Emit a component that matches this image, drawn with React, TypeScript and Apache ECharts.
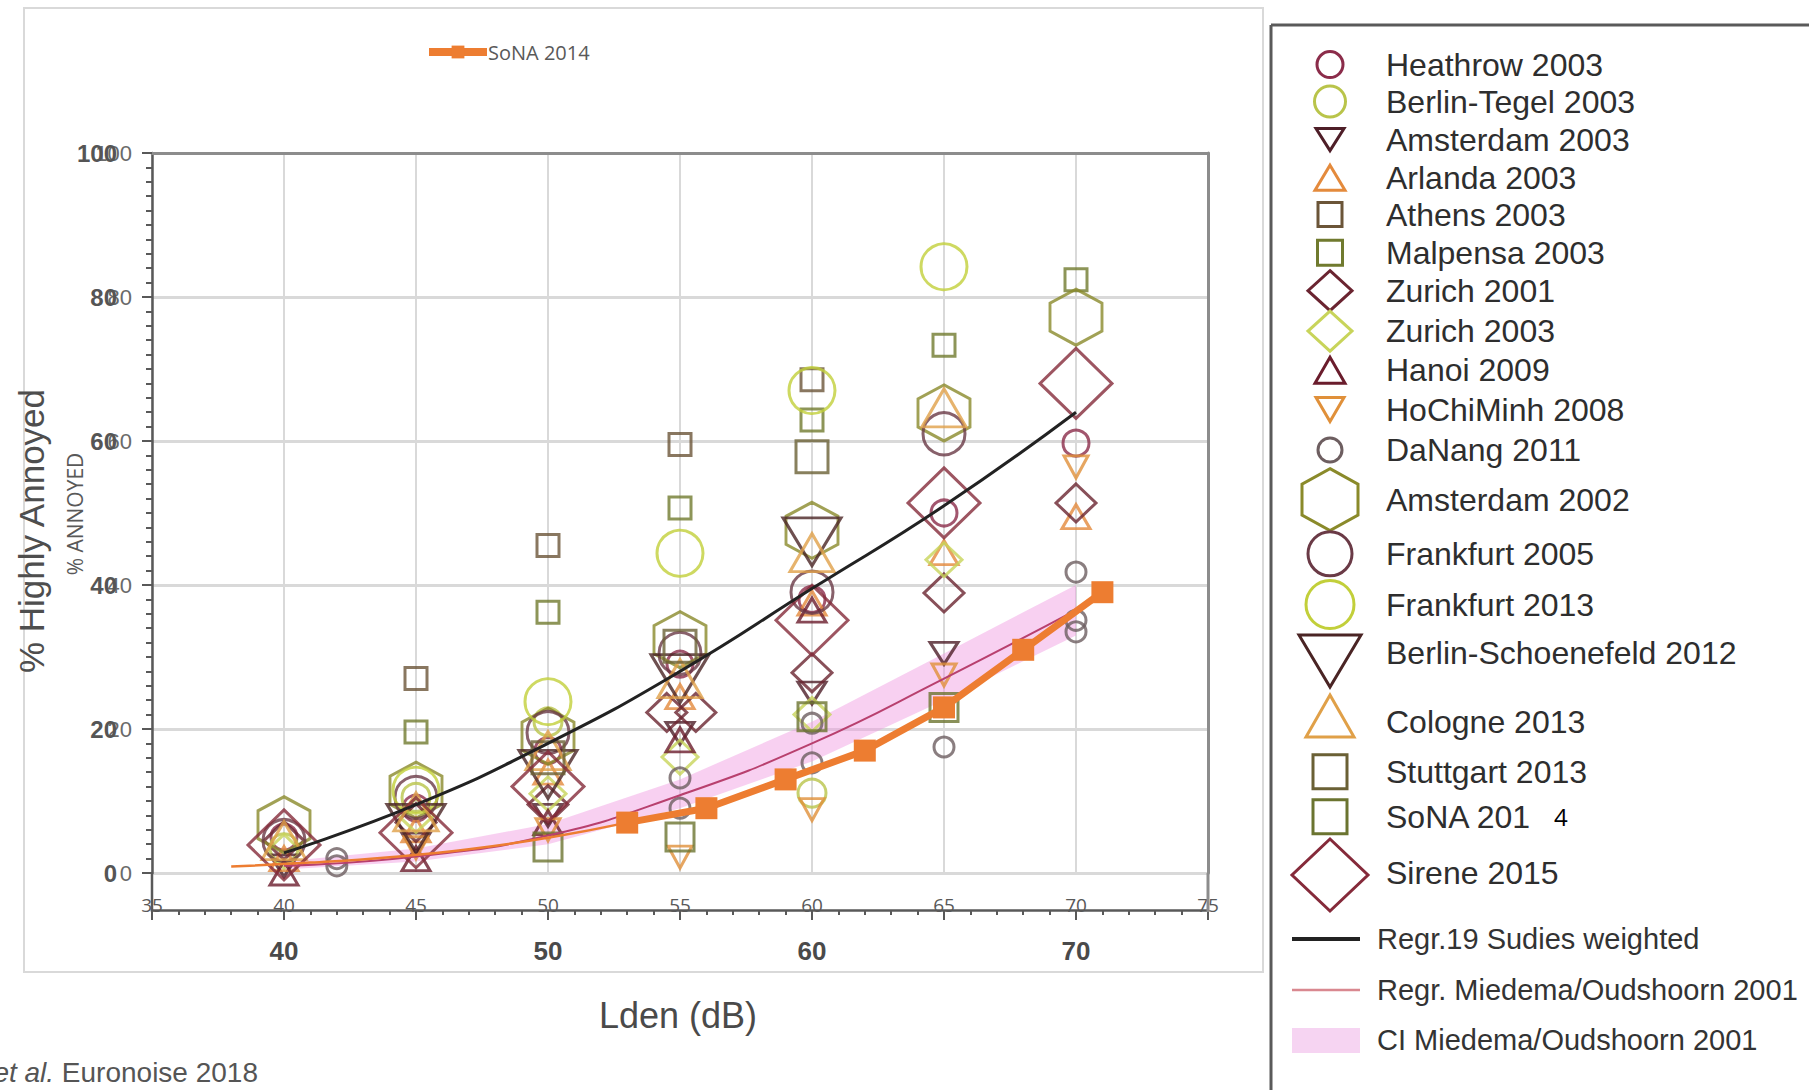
import React, { useEffect, useRef } from "react";
import * as echarts from "echarts";

// ---------- data ----------
const sonaX = [53, 56, 59, 62, 65, 68, 71];
const sonaY = [7, 9, 13, 17, 23, 31, 39];
const sonaThinX = [38, 41, 44, 47, 50, 53];
const sonaThinY = [0.9, 1.45, 2.2, 3.3, 4.9, 7];
const regr19X = [40, 45, 50, 55, 60, 65, 70];
const regr19Y = [2.8, 9.5, 18, 28, 39.5, 51, 64];
const miedemaX = [40, 45, 50, 55, 60, 65, 70];
const miedemaY = [1.0, 2.3, 5.2, 10.8, 18, 27, 36.5];
const ciLow = [0.5, 1.6, 4.0, 9.0, 15.5, 24, 33];
const ciHigh = [1.6, 3.4, 6.8, 13, 21, 30.5, 40];

const heathrow2003 = [[40, 5], [45, 9], [50, 17], [55, 29], [60, 38], [65, 50], [70, 59.7]];
const berlinTegel2003 = [[40, 3.5], [45, 10.5], [50, 21], [60, 11.1]];
const amsterdam2003 = [[40, 1], [45, 4], [50, 8], [55, 19.4], [60, 25], [65, 30.5]];
const arlanda2003 = [[40, 2], [45, 6], [50, 14], [55, 24.5], [60, 37.5], [65, 44.5], [70, 49.5]];
const athens2003 = [[45, 27], [50, 45.5], [55, 59.5], [60, 68.5]];
const malpensa2003 = [[45, 19.6], [50, 36.2], [55, 50.7], [60, 62.9], [65, 73.3], [70, 82.4]];
const zurich2001 = [[40, 4.5], [45, 7], [50, 9.5], [54.5, 22.3], [55.6, 22.3], [60, 27.8], [65, 38.9], [70, 51.4]];
const zurich2003 = [[40, 3], [45, 8], [50, 11], [55, 16.1], [60, 22], [65, 43.5]];
const hanoi2009 = [[40, 0], [45, 2], [50, 7], [55, 18.5], [60, 36.5]];
const hoChiMinh2008 = [[45, 3.5], [50, 6], [55, 2.2], [60, 8.8], [65, 27.5], [70, 56.4]];
const daNang2011 = [[42, 2], [42, 1], [55, 13.2], [55, 9], [60, 20.8], [60, 15.3], [65, 17.5], [70, 41.8], [70, 35.1], [70, 33.5]];
const amsterdam2002 = [[40, 6.7], [45, 11.5], [50, 19], [55, 32.4], [60, 47.6], [65, 63.9], [70, 77.2]];
const frankfurt2005 = [[40, 4.5], [45, 10.5], [50, 19.5], [55, 30.5], [60, 39], [65, 61]];
const frankfurt2013 = [[45, 11.5], [50, 23.8], [55, 44.4], [60, 67], [65, 84.2]];
const berlinSchoenefeld2012 = [[45, 6.2], [50, 13.7], [55, 27], [60, 46]];
const cologne2013 = [[40, 4.5], [45, 8.5], [50, 17], [55, 27], [60, 44.5], [65, 64.6]];
const stuttgart2013 = [[50, 16], [55, 31.5], [60, 57.8]];
const sona2014Study = [[50, 3.6], [55, 5], [60, 21.7], [65, 23]];
const sirene2015 = [[40, 3.9], [45, 5.6], [50, 12], [60, 35.1], [65, 51.4], [70, 68]];

// ---------- styles ----------
const SYM: Record<string, string> = {
  circle: "circle",
  triangle: "triangle",
  inv: "path://M0,0 L100,0 L50,100 Z",
  square: "rect",
  diamond: "diamond",
  hex: "path://M50,0 L100,25 L100,75 L50,100 L0,75 L0,25 Z",
};

const studies = [
  { name: "Heathrow 2003", data: heathrow2003, kind: "circle", color: "#8b2c4a", size: [26, 26], lsize: [26, 26], ly: 64.6 },
  { name: "Berlin-Tegel 2003", data: berlinTegel2003, kind: "circle", color: "#b9c44a", size: [28, 28], lsize: [31, 31], ly: 101.5 },
  { name: "Amsterdam 2003", data: amsterdam2003, kind: "inv", color: "#4e1e28", size: [28, 22], lsize: [28, 22], ly: 139.6 },
  { name: "Arlanda 2003", data: arlanda2003, kind: "triangle", color: "#e48a3c", size: [28, 24], lsize: [30, 25], ly: 177.7 },
  { name: "Athens 2003", data: athens2003, kind: "square", color: "#6b5538", size: [22, 22], lsize: [24, 24], ly: 214.6 },
  { name: "Malpensa 2003", data: malpensa2003, kind: "square", color: "#707a2e", size: [22, 22], lsize: [25, 25], ly: 252.7 },
  { name: "Zurich 2001", data: zurich2001, kind: "diamond", color: "#6a2430", size: [40, 38], lsize: [44, 40], ly: 290.7 },
  { name: "Zurich 2003", data: zurich2003, kind: "diamond", color: "#c8d45a", size: [36, 34], lsize: [44, 40], ly: 331.1 },
  { name: "Hanoi 2009", data: hanoi2009, kind: "triangle", color: "#6a1c2c", size: [28, 24], lsize: [30, 26], ly: 370.3 },
  { name: "HoChiMinh 2008", data: hoChiMinh2008, kind: "inv", color: "#e0903a", size: [24, 22], lsize: [28, 24], ly: 409.6 },
  { name: "DaNang 2011", data: daNang2011, kind: "circle", color: "#6d5e60", size: [20, 20], lsize: [24, 24], ly: 450 },
  { name: "Amsterdam 2002", data: amsterdam2002, kind: "hex", color: "#8a8a2a", size: [52, 56], lsize: [56, 62], ly: 499.6 },
  { name: "Frankfurt 2005", data: frankfurt2005, kind: "circle", color: "#6a3a46", size: [42, 42], lsize: [44, 44], ly: 553.8 },
  { name: "Frankfurt 2013", data: frankfurt2013, kind: "circle", color: "#c2cf3a", size: [46, 46], lsize: [48, 48], ly: 604.5 },
  { name: "Berlin-Schoenefeld 2012", data: berlinSchoenefeld2012, kind: "inv", color: "#4a2424", size: [58, 48], lsize: [62, 52], ly: 653, sy: 661 },
  { name: "Cologne 2013", data: cologne2013, kind: "triangle", color: "#e0a048", size: [44, 38], lsize: [48, 42], ly: 722.2, sy: 716 },
  { name: "Stuttgart 2013", data: stuttgart2013, kind: "square", color: "#6a6035", size: [32, 32], lsize: [34, 34], ly: 771.8 },
  { name: "SoNA 201", data: sona2014Study, kind: "square", color: "#6b7430", size: [28, 28], lsize: [34, 34], ly: 816.8 },
  { name: "Sirene 2015", data: sirene2015, kind: "diamond", color: "#852a3a", size: [72, 70], lsize: [76, 72], ly: 873.4, sy: 875 },
];

function legendShape(kind: string, cx: number, cy: number, w: number, h: number, color: string) {
  const style = { fill: "none", stroke: color, lineWidth: 3 };
  const hw = w / 2, hh = h / 2;
  if (kind === "circle") return { type: "ellipse", shape: { cx, cy, rx: hw, ry: hh }, style };
  if (kind === "square") return { type: "rect", shape: { x: cx - hw, y: cy - hh, width: w, height: h }, style };
  let pts: number[][] = [];
  if (kind === "triangle") pts = [[cx, cy - hh], [cx + hw, cy + hh], [cx - hw, cy + hh]];
  if (kind === "inv") pts = [[cx - hw, cy - hh], [cx + hw, cy - hh], [cx, cy + hh]];
  if (kind === "diamond") pts = [[cx, cy - hh], [cx + hw, cy], [cx, cy + hh], [cx - hw, cy]];
  if (kind === "hex") pts = [[cx, cy - hh], [cx + hw, cy - hh / 2], [cx + hw, cy + hh / 2], [cx, cy + hh], [cx - hw, cy + hh / 2], [cx - hw, cy - hh / 2]];
  return { type: "polygon", shape: { points: pts }, style };
}

function txt(text: string, x: number, y: number, fontSize: number, color: string, align = "left", extra: any = {}) {
  return {
    type: "text",
    x,
    y,
    style: {
      text,
      fill: color,
      fontSize,
      fontFamily: "Liberation Sans, Arial, sans-serif",
      align,
      textAlign: align,
      verticalAlign: "middle",
      textVerticalAlign: "middle",
      ...extra,
    },
  };
}

export default function App() {
  const ref = useRef<HTMLDivElement>(null);
  useEffect(() => {
    document.body.style.margin = "0";
    if (!ref.current) return;
    const chart = echarts.init(ref.current, null, { renderer: "svg" });

    const graphics: any[] = [];
    graphics.push({ type: "rect", shape: { x: 24, y: 8, width: 1239, height: 964 }, style: { fill: "none", stroke: "#d9d9d9", lineWidth: 2 }, z: 0 });
    graphics.push({ type: "line", shape: { x1: 152, y1: 873, x2: 152, y2: 912 }, style: { stroke: "#595959", lineWidth: 2.5 }, z: 5 });
    graphics.push({ type: "line", shape: { x1: 1208, y1: 873, x2: 1208, y2: 912 }, style: { stroke: "#8c8c8c", lineWidth: 3 }, z: 5 });
    graphics.push({ type: "line", shape: { x1: 1271, y1: 25, x2: 1271, y2: 1090 }, style: { stroke: "#5a5a5a", lineWidth: 3 } });
    graphics.push({ type: "line", shape: { x1: 1271, y1: 25, x2: 1809, y2: 25 }, style: { stroke: "#5a5a5a", lineWidth: 3 } });
    studies.forEach((s) => {
      graphics.push(legendShape(s.kind, 1330, (s as any).sy ?? s.ly, s.lsize[0], s.lsize[1], s.color));
      graphics.push(txt(s.name, 1386, s.ly, 32, "#2e2e2e"));
    });
    graphics.push(txt("4", 1554, 816.8, 24, "#000000", "left", { fontFamily: "Open Sans, sans-serif" }));
    graphics.push({ type: "line", shape: { x1: 1292, y1: 939, x2: 1360, y2: 939 }, style: { stroke: "#222", lineWidth: 4 } });
    graphics.push(txt("Regr.19 Sudies weighted", 1377, 939, 29, "#333"));
    graphics.push({ type: "line", shape: { x1: 1292, y1: 990, x2: 1360, y2: 990 }, style: { stroke: "#d98890", lineWidth: 2.5 } });
    graphics.push(txt("Regr. Miedema/Oudshoorn 2001", 1377, 990, 29, "#333"));
    graphics.push({ type: "rect", shape: { x: 1292, y: 1028, width: 68, height: 25 }, style: { fill: "#f6d4f2" } });
    graphics.push(txt("CI Miedema/Oudshoorn 2001", 1377, 1040, 29, "#333"));
    graphics.push({ ...txt("% Highly Annoyed", 31, 531, 35, "#4e4e4e", "center"), rotation: Math.PI / 2 });
    graphics.push({ ...txt("% ANNOYED", 75, 514, 21, "#595959", "center", { fontFamily: "Open Sans, sans-serif" }), rotation: Math.PI / 2 });
    graphics.push(txt("Lden (dB)", 678, 1015, 36, "#4a4a4a", "center"));
    graphics.push(txt("{i|et al.} Euronoise 2018", 258, 1072, 28, "#555", "right", { rich: { i: { fontStyle: "italic", fontSize: 28, fill: "#555", fontFamily: "Liberation Sans, Arial, sans-serif" } } }));

    const scatterSeries = studies.map((s) => ({
      type: "scatter",
      name: s.name === "SoNA 201" ? "SoNA 2014 study" : s.name,
      data: s.data,
      symbol: SYM[s.kind],
      symbolSize: s.size,
      itemStyle: { color: "rgba(0,0,0,0)", borderColor: s.color, borderWidth: 3 },
      z: 3,
    }));

    const option: any = {
      animation: false,
      backgroundColor: "#ffffff",
      textStyle: { fontFamily: "Liberation Sans, Arial, sans-serif" },
      legend: {
        data: ["SoNA 2014"],
        left: 420,
        top: 37,
        itemWidth: 58,
        itemHeight: 16,
        selectedMode: false,
        lineStyle: { width: 8 },
        textStyle: { fontSize: 20, color: "#595959", fontFamily: "Open Sans, sans-serif", padding: [0, 0, 0, -4] },
      },
      grid: { left: 152, top: 153, width: 1056, height: 720, containLabel: false },
      xAxis: [
        {
          type: "value", min: 35, max: 75, interval: 5, position: "bottom", offset: 37,
          axisLine: { show: true, onZero: false, lineStyle: { color: "#595959", width: 2.5 } },
          axisTick: { show: true, length: 10, lineStyle: { color: "#595959", width: 2 } },
          minorTick: { show: true, splitNumber: 5, length: 5, lineStyle: { color: "#595959", width: 2 } },
          axisLabel: { margin: -15, fontSize: 19, color: "#595959", fontFamily: "Open Sans, sans-serif" },
          splitLine: { show: true, lineStyle: { color: "#d9d9d9", width: 2 } },
        },
        {
          type: "value", min: 35, max: 75, interval: 5, position: "bottom", offset: 37,
          axisLine: { show: false, onZero: false }, axisTick: { show: false }, splitLine: { show: false },
          axisLabel: {
            margin: 28, fontSize: 26, fontWeight: "bold", color: "#4a4a4a",
            formatter: (v: number) => (v % 10 === 0 && v >= 40 && v <= 70 ? String(v) : ""),
          },
        },
        {
          type: "value", min: 35, max: 75, position: "top",
          axisLine: { show: true, onZero: false, lineStyle: { color: "#8c8c8c", width: 3 } },
          axisTick: { show: false }, axisLabel: { show: false }, splitLine: { show: false },
        },
      ],
      yAxis: [
        {
          type: "value", min: 0, max: 100, interval: 20, position: "left",
          axisLine: { show: true, onZero: false, lineStyle: { color: "#595959", width: 2.5 } },
          axisTick: { show: true, length: 10, lineStyle: { color: "#595959", width: 2 } },
          minorTick: { show: true, splitNumber: 10, length: 6, lineStyle: { color: "#595959", width: 2 } },
          axisLabel: { margin: 20, fontSize: 22, color: "#6a6a6a" },
          splitLine: { show: true, lineStyle: { color: "#d9d9d9", width: 3 } },
        },
        {
          type: "value", min: 0, max: 100, interval: 20, position: "left",
          axisLine: { show: false, onZero: false }, axisTick: { show: false }, splitLine: { show: false },
          axisLabel: { margin: 35, fontSize: 24, fontWeight: "bold", color: "#555" },
        },
        {
          type: "value", min: 0, max: 100, position: "right",
          axisLine: { show: true, onZero: false, lineStyle: { color: "#8c8c8c", width: 3 } },
          axisTick: { show: false }, axisLabel: { show: false }, splitLine: { show: false },
        },
      ],
      series: [
        {
          type: "custom",
          name: "CI Miedema/Oudshoorn 2001",
          data: [[miedemaX[0], ciLow[0]]],
          silent: true,
          z: 1,
          renderItem: (_params: any, api: any) => {
            const top = miedemaX.map((x, i) => api.coord([x, ciHigh[i]]));
            const bot = miedemaX.map((x, i) => api.coord([x, ciLow[i]])).reverse();
            return {
              type: "polygon",
              shape: { points: top.concat(bot) },
              style: { fill: "rgba(240,150,225,0.45)" },
            };
          },
        },
        ...scatterSeries,
        {
          type: "line", name: "Regr. Miedema/Oudshoorn 2001", data: miedemaX.map((x, i) => [x, miedemaY[i]]),
          symbol: "none", smooth: true, lineStyle: { color: "#b8406e", width: 2 }, z: 4,
        },
        {
          type: "line", name: "Regr.19 Sudies weighted", data: regr19X.map((x, i) => [x, regr19Y[i]]),
          symbol: "none", smooth: true, lineStyle: { color: "#222222", width: 3 }, z: 4,
        },
        {
          type: "line", name: "SoNA 2014 low", data: sonaThinX.map((x, i) => [x, sonaThinY[i]]),
          symbol: "none", smooth: true, lineStyle: { color: "#ED7D31", width: 2.5 }, z: 5,
        },
        {
          type: "line", name: "SoNA 2014", data: sonaX.map((x, i) => [x, sonaY[i]]),
          symbol: "rect", symbolSize: 22, itemStyle: { color: "#ED7D31" },
          lineStyle: { color: "#ED7D31", width: 7 }, z: 6,
        },
      ],
      graphic: { elements: graphics },
    };
    chart.setOption(option);
    return () => chart.dispose();
  }, []);
  return <div ref={ref} style={{ width: 1809, height: 1090 }} />;
}
